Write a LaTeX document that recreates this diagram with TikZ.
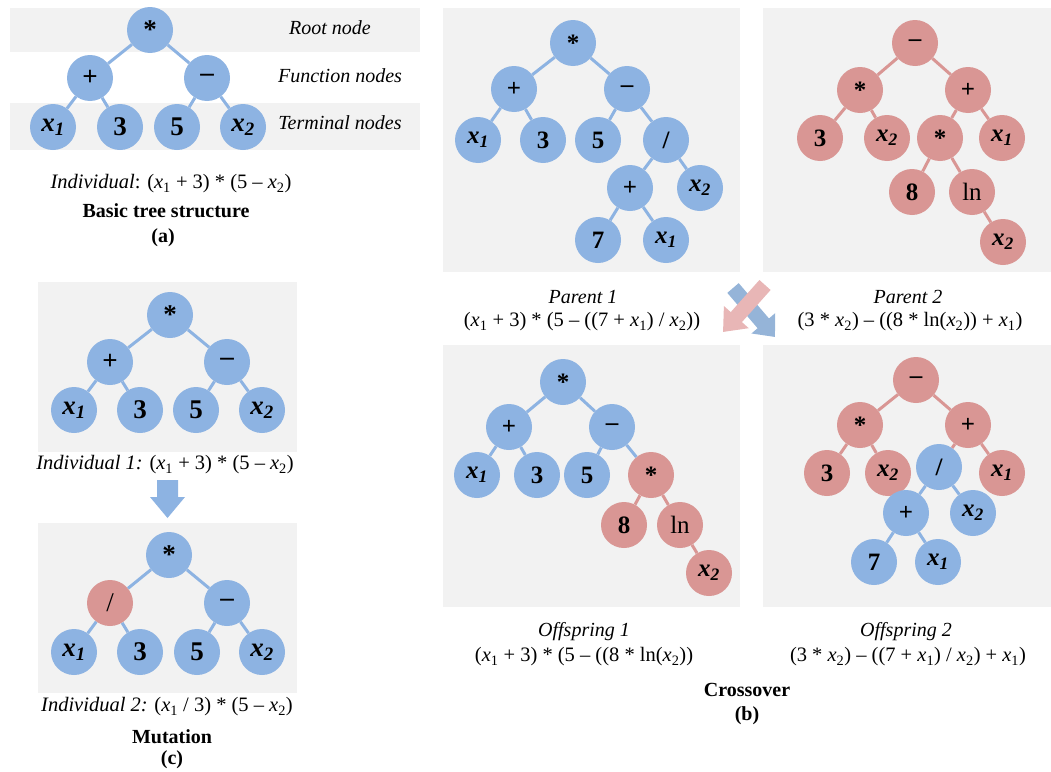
\documentclass[tikz,border=0pt]{standalone}
\usepackage{fontspec}
\setmainfont{Liberation Serif}
\usetikzlibrary{arrows.meta}
\definecolor{nodeblue}{RGB}{141,179,226}
\definecolor{nodered}{RGB}{217,150,148}
\definecolor{panelgrey}{RGB}{242,242,242}
\definecolor{arrowblue}{RGB}{149,180,216}
\definecolor{arrowpink}{RGB}{232,182,182}
\newcommand{\xnode}[1]{\textit{x\textsubscript{#1}}}
\newcommand{\xsub}[1]{\textit{x}\textsubscript{#1}}
\tikzstyle{tnode} = [circle, fill=nodeblue, minimum size=46pt, inner sep=0pt, font=\fontsize{25}{25}\selectfont\bfseries]
\tikzstyle{rnode} = [tnode, fill=nodered]
\tikzstyle{bline} = [draw=nodeblue, line width=3pt]
\tikzstyle{rline} = [draw=nodered, line width=3pt]
\tikzstyle{panel} = [fill=panelgrey]
\tikzstyle{exprtext} = [font=\fontsize{20.5}{22}\selectfont]
\tikzstyle{titletext} = [font=\fontsize{20}{22}\selectfont\bfseries]
\tikzstyle{rowlabel} = [font=\fontsize{20}{22}\selectfont\itshape]
\tikzstyle{bigtree} = [tnode/.append style={font=\fontsize{27}{27}\selectfont\bfseries}]
\begin{document}
\begin{tikzpicture}[x=1pt, y=-1pt]
    \useasboundingbox (0,0) rectangle (1051,771);

    % (a) Basic tree structure
    \fill[panel] (10,8) rectangle (420,52);
    \fill[panel] (10,103) rectangle (420,150);
    \begin{scope}[bigtree]
    \node [tnode] (a-root) at (150,30) {*};
    \node [tnode] (a-plus) at (90,78) {+};
    \node [tnode] (a-minus) at (207,78) {–};
    \node [tnode] (a-x1) at (53,127) {\xnode{1}};
    \node [tnode] (a-3) at (120,127) {3};
    \node [tnode] (a-5) at (177,127) {5};
    \node [tnode] (a-x2) at (243,127) {\xnode{2}};
    \end{scope}
    \draw [bline] (a-root) -- (a-plus);
    \draw [bline] (a-root) -- (a-minus);
    \draw [bline] (a-plus) -- (a-x1);
    \draw [bline] (a-plus) -- (a-3);
    \draw [bline] (a-minus) -- (a-5);
    \draw [bline] (a-minus) -- (a-x2);
    \node [rowlabel] (a-rootlbl) at (330,28) {Root node};
    \node [rowlabel] (a-funclbl) at (340,76) {Function nodes};
    \node [rowlabel] (a-termlbl) at (340,123) {Terminal nodes};
    \node [exprtext] (a-expr) at (171,184) {\textit{Individual}: (\xsub{1} + 3) * (5 – \xsub{2})};
    \node [titletext] (a-title) at (166,211) {Basic tree structure};
    \node [titletext] (a-tag) at (163,238) {(a)};

    % (b) Crossover: parents
    \fill[panel] (443,8) rectangle (740,272);
    \fill[panel] (763,8) rectangle (1051,272);
    \node [tnode] (p-root) at (573,43) {*};
    \node [tnode] (p-plus) at (514,89) {+};
    \node [tnode] (p-minus) at (627,89) {–};
    \node [tnode] (p-x1) at (478,140) {\xnode{1}};
    \node [tnode] (p-3) at (543,140) {3};
    \node [tnode] (p-5) at (598,140) {5};
    \node [tnode] (p-div) at (666,140) {/};
    \node [tnode] (p-plus2) at (630,188) {+};
    \node [tnode] (p-x2) at (700,188) {\xnode{2}};
    \node [tnode] (p-7) at (598,240) {7};
    \node [tnode] (p-x1b) at (666,240) {\xnode{1}};
    \draw [bline] (p-root) -- (p-plus);
    \draw [bline] (p-root) -- (p-minus);
    \draw [bline] (p-plus) -- (p-x1);
    \draw [bline] (p-plus) -- (p-3);
    \draw [bline] (p-minus) -- (p-5);
    \draw [bline] (p-minus) -- (p-div);
    \draw [bline] (p-div) -- (p-plus2);
    \draw [bline] (p-div) -- (p-x2);
    \draw [bline] (p-plus2) -- (p-7);
    \draw [bline] (p-plus2) -- (p-x1b);

    \node [rnode] (q-root) at (915,43) {–};
    \node [rnode] (q-times) at (860,90) {*};
    \node [rnode] (q-plus) at (968,90) {+};
    \node [rnode] (q-3) at (820,138) {3};
    \node [rnode] (q-x2) at (887,138) {\xnode{2}};
    \node [rnode] (q-times2) at (940,138) {*};
    \node [rnode] (q-x1) at (1002,138) {\xnode{1}};
    \node [rnode] (q-8) at (912,192) {8};
    \node [rnode] (q-ln) at (972,192) {\mdseries ln};
    \node [rnode] (q-x2b) at (1003,242) {\xnode{2}};
    \draw [rline] (q-root) -- (q-times);
    \draw [rline] (q-root) -- (q-plus);
    \draw [rline] (q-times) -- (q-3);
    \draw [rline] (q-times) -- (q-x2);
    \draw [rline] (q-plus) -- (q-times2);
    \draw [rline] (q-plus) -- (q-x1);
    \draw [rline] (q-times2) -- (q-8);
    \draw [rline] (q-times2) -- (q-ln);
    \draw [rline] (q-ln) -- (q-x2b);

    \node [rowlabel] (p-name) at (583,297) {Parent 1};
    \node [exprtext] (p-expr) at (582,322) {(\xsub{1} + 3) * (5 – ((7 + \xsub{1}) / \xsub{2}))};
    \node [rowlabel] (q-name) at (908,297) {Parent 2};
    \node [exprtext] (q-expr) at (910,322) {(3 * \xsub{2}) – ((8 * ln(\xsub{2})) + \xsub{1})};

    % crossing arrows
    \coordinate (cross-a) at (733,288);
    \coordinate (cross-b) at (775,337);
    \coordinate (cross-c) at (765,285);
    \coordinate (cross-d) at (723,332);
    \draw [arrowblue, line width=15pt, -{Triangle[width=30pt,length=18pt]}] (cross-a) -- (cross-b);
    \draw [arrowpink, line width=15pt, -{Triangle[width=32pt,length=20pt]}] (cross-c) -- (cross-d);

    % (b) Crossover: offspring
    \fill[panel] (443,345) rectangle (740,607);
    \fill[panel] (763,345) rectangle (1051,607);
    \node [tnode] (o-root) at (563,382) {*};
    \node [tnode] (o-plus) at (509,427) {+};
    \node [tnode] (o-minus) at (612,427) {–};
    \node [tnode] (o-x1) at (477,475) {\xnode{1}};
    \node [tnode] (o-3) at (537,475) {3};
    \node [tnode] (o-5) at (587,475) {5};
    \node [rnode] (o-times) at (651,475) {*};
    \node [rnode] (o-8) at (624,525) {8};
    \node [rnode] (o-ln) at (680,525) {\mdseries ln};
    \node [rnode] (o-x2) at (709,573) {\xnode{2}};
    \draw [bline] (o-root) -- (o-plus);
    \draw [bline] (o-root) -- (o-minus);
    \draw [bline] (o-plus) -- (o-x1);
    \draw [bline] (o-plus) -- (o-3);
    \draw [bline] (o-minus) -- (o-5);
    \draw [bline] (o-minus) -- (o-times);
    \draw [rline] (o-times) -- (o-8);
    \draw [rline] (o-times) -- (o-ln);
    \draw [rline] (o-ln) -- (o-x2);

    \node [rnode] (f-root) at (916,380) {–};
    \node [rnode] (f-times) at (860,425) {*};
    \node [rnode] (f-plus) at (968,425) {+};
    \node [rnode] (f-3) at (827,473) {3};
    \node [rnode] (f-x2) at (888,473) {\xnode{2}};
    \node [tnode] (f-div) at (939,467) {/};
    \node [rnode] (f-x1) at (1002,473) {\xnode{1}};
    \node [tnode] (f-plus2) at (906,513) {+};
    \node [tnode] (f-x2b) at (973,513) {\xnode{2}};
    \node [tnode] (f-7) at (874,562) {7};
    \node [tnode] (f-x1b) at (938,562) {\xnode{1}};
    \draw [rline] (f-root) -- (f-times);
    \draw [rline] (f-root) -- (f-plus);
    \draw [rline] (f-times) -- (f-3);
    \draw [rline] (f-times) -- (f-x2);
    \draw [rline] (f-plus) -- (f-div);
    \draw [rline] (f-plus) -- (f-x1);
    \draw [bline] (f-div) -- (f-plus2);
    \draw [bline] (f-div) -- (f-x2b);
    \draw [bline] (f-plus2) -- (f-7);
    \draw [bline] (f-plus2) -- (f-x1b);

    \node [rowlabel] (o-name) at (584,632) {Offspring 1};
    \node [exprtext] (o-expr) at (584,657) {(\xsub{1} + 3) * (5 – ((8 * ln(\xsub{2}))};
    \node [rowlabel] (f-name) at (906,632) {Offspring 2};
    \node [exprtext] (f-expr) at (908,657) {(3 * \xsub{2}) – ((7 + \xsub{1}) / \xsub{2}) + \xsub{1})};
    \node [titletext] (b-title) at (747,690) {Crossover};
    \node [titletext] (b-tag) at (747,716) {(b)};

    % (c) Mutation
    \fill[panel] (38,282) rectangle (297,452);
    \fill[panel] (38,523) rectangle (297,693);
    \begin{scope}[bigtree]
    \node [tnode] (m-root) at (170,315) {*};
    \node [tnode] (m-plus) at (110,362) {+};
    \node [tnode] (m-minus) at (227,362) {–};
    \node [tnode] (m-x1) at (74,410) {\xnode{1}};
    \node [tnode] (m-3) at (140,410) {3};
    \node [tnode] (m-5) at (196,410) {5};
    \node [tnode] (m-x2) at (262,410) {\xnode{2}};
    \node [tnode] (n-root) at (169,555) {*};
    \node [rnode] (n-div) at (110,603) {\mdseries /};
    \node [tnode] (n-minus) at (227,603) {–};
    \node [tnode] (n-x1) at (74,652) {\xnode{1}};
    \node [tnode] (n-3) at (140,652) {3};
    \node [tnode] (n-5) at (197,652) {5};
    \node [tnode] (n-x2) at (262,652) {\xnode{2}};
    \end{scope}
    \draw [bline] (m-root) -- (m-plus);
    \draw [bline] (m-root) -- (m-minus);
    \draw [bline] (m-plus) -- (m-x1);
    \draw [bline] (m-plus) -- (m-3);
    \draw [bline] (m-minus) -- (m-5);
    \draw [bline] (m-minus) -- (m-x2);
    \draw [bline] (n-root) -- (n-div);
    \draw [bline] (n-root) -- (n-minus);
    \draw [bline] (n-div) -- (n-x1);
    \draw [bline] (n-div) -- (n-3);
    \draw [bline] (n-minus) -- (n-5);
    \draw [bline] (n-minus) -- (n-x2);
    \fill [nodeblue] (157,480) -- (178,480) -- (178,497) -- (185,497) -- (167.5,518) -- (150,497) -- (157,497) -- cycle;
    \node [exprtext] (m-expr) at (165,465) {\textit{Individual 1:} (\xsub{1} + 3) * (5 – \xsub{2})};
    \node [exprtext] (n-expr) at (167,707) {\textit{Individual 2:} (\xsub{1} / 3) * (5 – \xsub{2})};
    \node [titletext] (c-title) at (172,737) {Mutation};
    \node [titletext] (c-tag) at (172,760) {(c)};
\end{tikzpicture}
\end{document}
